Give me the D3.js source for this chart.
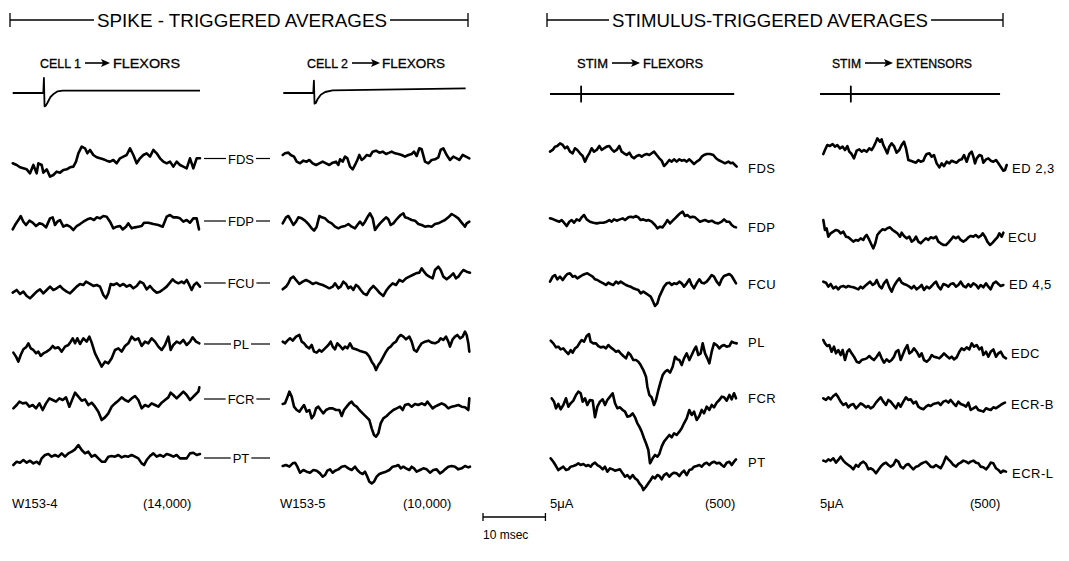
<!DOCTYPE html>
<html><head><meta charset="utf-8">
<script src="https://cdn.jsdelivr.net/npm/d3@7"></script>
<style>body{margin:0;background:#fff}svg{display:block}</style>
</head><body><svg id="c" width="1069" height="561"></svg>
<script>
// ---------- DATA ----------
// Each averaged trace: [sample index, amplitude (arbitrary units, + = up)]
const flexorLabels = ["FDS", "FDP", "FCU", "PL", "FCR", "PT"];
const extensorLabels = ["ED 2,3", "ECU", "ED 4,5", "EDC", "ECR-B", "ECR-L"];
const headerLabels = ["SPIKE - TRIGGERED AVERAGES", "STIMULUS-TRIGGERED AVERAGES"];
const footLeft = ["W153-4", "W153-5", "5\u03BCA", "5\u03BCA"];
const footRight = ["(14,000)", "(10,000)", "(500)", "(500)"];
const scaleBarMs = 10;
const sweepMs = [-5, 25];

// Spike-triggered averages, cell 1
const c1FDS = [[38,-15],[50,-20],[60,-27],[70,-30],[80,-33],[90,-45],[100,-20],[110,-45],[115,-15],[125,-20],[130,-43],[140,-33],[150,-55],[160,-50],[170,-40],[180,-43],[190,-35],[200,-33],[210,-27],[220,-25],[228,-10],[235,15],[245,35],[255,30],[262,15],[270,25],[280,10],[290,3],[300,0],[310,-3],[320,-7],[330,-10],[340,-5],[350,-15],[360,0],[370,5],[380,10],[390,30],[400,10],[410,-15],[420,0],[430,10],[440,15],[450,5],[460,25],[470,15],[480,0],[490,-10],[500,-15],[510,-10],[520,-25],[530,-10],[540,-20],[550,-25],[560,-30],[570,0],[580,-30],[590,0],[600,0]];
const c1FDP = [[38,-23],[45,-10],[55,5],[62,17],[70,0],[78,-10],[88,3],[98,-3],[108,-13],[118,-5],[128,-8],[138,-17],[150,10],[158,13],[165,-10],[172,0],[180,5],[190,-15],[200,-10],[210,-15],[220,-25],[230,-13],[240,-7],[250,0],[262,7],[272,10],[282,5],[290,13],[300,10],[310,17],[320,15],[330,0],[340,-20],[350,-15],[360,-13],[368,-23],[378,-15],[385,-5],[395,-20],[405,-17],[415,-15],[425,-13],[432,-3],[445,-3],[460,-7],[475,-10],[488,-15],[500,15],[510,20],[520,13],[530,13],[540,10],[550,0],[560,5],[570,-3],[580,10],[590,10],[597,-23]];
const c1FCU = [[38,-28],[50,-20],[60,-32],[70,-25],[80,-38],[90,-45],[100,-35],[110,-25],[120,-18],[130,-30],[140,-20],[150,-10],[160,-20],[170,-15],[180,-8],[190,-18],[200,-25],[210,-30],[220,-20],[230,-10],[240,-2],[250,-5],[258,5],[270,-2],[280,-8],[290,-5],[300,-10],[310,-35],[318,-45],[325,-30],[332,-2],[340,-5],[350,0],[360,-8],[370,-2],[380,-10],[390,-5],[400,-15],[410,-8],[420,5],[430,0],[440,-18],[450,-8],[460,-20],[470,-28],[480,-25],[490,-18],[500,-10],[510,2],[518,12],[525,5],[535,0],[545,5],[552,0],[560,10],[568,-5],[575,-20],[582,-5],[590,2],[600,-10]];
const c1PL = [[40,-28],[48,-40],[55,-55],[62,-35],[70,-18],[78,-12],[85,0],[92,-15],[100,-20],[108,-30],[115,-25],[122,-38],[130,-30],[140,-25],[150,-18],[158,-8],[165,-15],[175,-12],[185,-25],[195,-10],[205,-5],[212,5],[218,15],[225,0],[232,15],[240,-2],[250,15],[260,5],[268,20],[275,2],[285,-30],[295,-50],[305,-70],[315,-55],[325,-60],[335,-45],[345,-20],[355,-15],[365,-25],[375,-8],[385,0],[395,20],[405,10],[415,15],[425,-8],[435,5],[445,0],[455,15],[465,5],[475,-10],[485,-20],[495,-5],[505,20],[512,-20],[520,-5],[530,5],[540,0],[550,10],[560,-5],[570,5],[578,18],[588,5],[598,0]];
const c1FCR = [[40,-32],[50,-22],[58,-12],[68,-17],[78,-15],[88,-27],[98,-22],[108,-32],[118,-17],[128,-37],[138,-17],[148,-2],[158,-7],[168,-12],[178,-2],[188,-7],[198,1],[208,-27],[218,-2],[225,15],[235,3],[245,-9],[255,-5],[265,-22],[275,-15],[285,-27],[295,-42],[305,-67],[315,-59],[325,-47],[335,-27],[345,-17],[355,-9],[365,1],[375,-7],[385,-12],[395,-2],[405,5],[415,-7],[425,-32],[435,-22],[445,-27],[455,-17],[465,-22],[475,-27],[485,-15],[495,-7],[505,1],[512,15],[520,8],[530,-2],[540,8],[550,18],[560,8],[570,-7],[578,1],[585,8],[595,18],[598,31]];
const c1PT = [[40,-28],[50,-18],[60,-21],[70,-13],[80,-21],[90,-15],[100,-23],[110,-18],[118,-25],[125,-8],[135,2],[145,5],[155,-3],[165,2],[175,-3],[185,7],[195,-3],[205,7],[215,12],[225,19],[235,32],[245,17],[255,7],[265,12],[275,-3],[285,2],[295,-8],[305,-18],[315,-18],[325,-3],[335,-1],[345,-3],[355,2],[365,-5],[375,-1],[385,-3],[395,2],[405,-3],[415,-8],[425,-23],[432,-28],[440,-13],[450,-1],[460,7],[470,-3],[480,2],[490,-3],[500,5],[510,2],[520,-3],[530,2],[540,-8],[550,-8],[560,-8],[570,7],[580,9],[590,2],[600,5]];

// Spike-triggered averages, cell 2
const c2FDS = [[38,10],[45,15],[55,17],[62,10],[72,5],[80,-10],[90,-15],[100,-7],[110,-10],[118,-5],[128,-15],[138,-20],[148,-15],[158,-10],[168,-15],[178,-20],[188,-13],[198,-10],[205,-20],[210,-3],[218,-10],[225,5],[232,0],[240,-25],[248,-33],[255,-20],[262,-5],[268,10],[275,-5],[282,0],[290,10],[300,7],[308,20],[318,23],[328,17],[338,20],[348,13],[358,17],[365,20],[375,15],[385,13],[395,10],[405,5],[415,10],[425,13],[432,20],[440,7],[448,30],[455,27],[465,-10],[475,-15],[485,-5],[495,-3],[505,3],[512,25],[520,30],[530,10],[540,-5],[550,5],[560,0],[568,-5],[578,10],[588,5],[598,0]];
const c2FDP = [[38,-10],[48,8],[55,12],[62,0],[70,-15],[78,-5],[85,8],[95,5],[105,-2],[115,-12],[125,-25],[132,-32],[140,-20],[148,12],[155,8],[165,5],[175,-5],[185,-10],[195,-20],[205,-25],[215,-20],[225,-18],[235,-12],[245,-20],[255,-25],[262,-15],[270,-5],[278,-15],[285,-5],[292,8],[300,20],[308,5],[315,-30],[322,-20],[330,-10],[340,0],[348,8],[355,2],[362,-15],[370,-10],[378,0],[385,8],[392,15],[400,20],[405,8],[415,5],[425,0],[435,-2],[445,-12],[455,-15],[465,-20],[475,-18],[485,-20],[495,-12],[505,-10],[515,-5],[525,0],[535,8],[545,18],[555,12],[565,5],[575,-8],[585,-20],[590,-10],[598,-5]];
const c2FCU = [[38,-18],[48,-10],[55,0],[62,15],[70,20],[78,10],[88,-2],[98,5],[108,10],[118,5],[128,-2],[138,2],[148,-2],[158,-5],[168,-10],[178,-15],[188,-10],[195,0],[205,-15],[212,-10],[220,5],[228,-2],[235,-15],[242,-10],[250,-20],[258,-5],[265,-10],[272,-20],[280,-30],[290,-35],[300,-18],[310,-8],[320,-18],[330,-30],[340,-38],[350,-20],[358,-10],[368,0],[378,-5],[388,10],[398,5],[408,15],[418,20],[428,25],[438,30],[448,32],[455,45],[462,35],[470,25],[478,20],[488,15],[495,40],[505,50],[512,40],[520,20],[530,12],[540,20],[550,30],[558,15],[565,20],[572,30],[580,40],[590,35],[600,32]];
const c2PL = [[38,8],[45,3],[52,11],[60,18],[68,11],[78,23],[88,28],[95,8],[102,3],[110,-7],[118,-12],[125,-2],[132,-22],[140,-25],[148,-17],[155,-22],[165,-12],[175,-2],[182,8],[188,-7],[195,-15],[202,3],[210,-5],[218,-15],[225,-7],[232,-12],[240,3],[248,-12],[258,-15],[268,-19],[278,-22],[288,-25],[298,-37],[305,-52],[312,-62],[318,-77],[325,-62],[332,-52],[340,-37],[348,-22],[355,-12],[362,-7],[370,3],[378,8],[385,21],[392,28],[400,23],[408,15],[418,23],[425,8],[432,-17],[440,-22],[448,-7],[455,3],[465,8],[475,11],[485,5],[495,3],[505,8],[512,18],[520,13],[528,23],[535,8],[540,-7],[548,15],[555,23],[562,28],[570,18],[578,23],[585,38],[590,28],[595,3],[598,-22]];
const c2FCR = [[38,-12],[45,-10],[52,8],[58,25],[65,10],[72,-20],[80,-30],[88,-35],[95,-25],[102,-15],[110,-35],[118,-30],[125,-55],[132,-45],[138,-25],[145,-20],[152,-30],[160,-40],[168,-30],[178,-25],[188,-25],[198,-30],[208,-30],[215,-48],[222,-30],[230,-20],[238,-10],[245,-5],[252,-15],[260,-20],[268,-30],[278,-40],[288,-50],[298,-60],[305,-85],[312,-105],[318,-110],[325,-100],[332,-70],[340,-55],[350,-48],[360,-38],[370,-30],[380,-25],[390,-20],[398,-30],[405,-15],[415,-12],[425,-20],[435,-12],[445,-15],[455,-10],[465,-15],[472,-5],[480,-15],[488,-25],[495,-20],[505,-15],[515,-10],[525,-15],[535,-25],[545,-20],[555,-18],[565,-15],[575,-20],[585,-22],[595,-30],[598,5]];
const c2PT = [[38,-13],[48,-10],[58,-15],[68,-5],[75,-3],[82,-15],[90,-33],[100,-25],[110,-30],[120,-33],[130,-25],[140,-27],[150,-35],[158,-45],[165,-40],[172,-27],[180,-23],[188,-33],[195,-27],[205,-23],[215,-15],[225,-13],[235,-20],[245,-25],[255,-15],[262,-25],[270,-33],[278,-37],[285,-30],[292,-45],[298,-60],[305,-65],[312,-60],[320,-45],[328,-37],[338,-33],[348,-30],[358,-25],[368,-15],[378,-13],[385,-10],[392,-20],[400,-15],[408,-20],[418,-25],[425,-15],[432,-20],[440,-30],[450,-25],[460,-20],[470,-23],[480,-33],[490,-25],[500,-23],[510,-35],[518,-30],[525,-23],[535,-15],[545,-13],[555,-15],[565,-23],[575,-20],[585,-13],[595,-17],[600,-15]];

// Stimulus-triggered averages, flexors
const sfFDS = [[30,50],[38,55],[45,65],[52,67],[60,75],[68,70],[75,60],[82,65],[90,50],[98,45],[105,60],[112,55],[120,45],[128,37],[135,20],[142,35],[148,45],[155,60],[162,50],[170,55],[178,67],[185,55],[192,60],[200,65],[208,67],[215,57],[222,50],[230,55],[238,67],[245,50],[252,45],[260,40],[268,47],[275,35],[282,30],[290,37],[298,40],[305,35],[312,40],[320,43],[328,40],[335,45],[342,50],[350,40],[358,30],[365,23],[372,7],[380,15],[388,25],[395,20],[402,27],[410,20],[418,27],[425,23],[432,25],[440,20],[448,27],[455,20],[462,13],[470,20],[478,25],[485,35],[492,40],[500,43],[510,43],[520,40],[528,30],[535,25],[545,20],[555,15],[565,20],[572,15],[578,17],[585,10],[590,5]];
const sfFDP = [[30,25],[40,22],[50,18],[58,15],[65,20],[72,12],[80,2],[88,15],[95,20],[102,12],[110,22],[118,18],[125,28],[132,35],[140,22],[150,15],[160,12],[170,10],[180,12],[190,12],[200,15],[208,20],[215,15],[222,22],[230,18],[240,22],[248,25],[255,20],[265,28],[272,30],[280,28],[288,32],[295,28],[302,20],[310,22],[318,18],[325,20],[335,15],[345,5],[352,-5],[360,0],[368,-2],[375,8],[382,20],[390,10],[398,18],[405,25],[412,32],[420,40],[428,45],[435,32],[442,35],[450,28],[458,30],[465,28],[472,22],[480,15],[488,18],[495,20],[505,15],[515,18],[525,12],[535,10],[545,15],[552,22],[560,15],[568,15],[575,5],[582,0],[588,-2]];
const sfFCU = [[30,7],[38,22],[45,27],[52,14],[60,22],[68,12],[75,22],[82,30],[90,32],[98,22],[105,24],[112,17],[120,22],[128,27],[135,30],[142,32],[150,27],[158,22],[165,14],[172,12],[180,7],[190,2],[198,-3],[205,4],[212,0],[220,-3],[228,7],[235,2],[242,7],[250,2],[258,-3],[265,-6],[272,-8],[280,-13],[288,-16],[295,-18],[302,-28],[310,-23],[318,-28],[325,-33],[332,-38],[338,-50],[345,-66],[352,-58],[358,-38],[365,-23],[372,-8],[380,2],[388,4],[395,-3],[402,2],[410,0],[418,7],[425,2],[432,-8],[440,2],[448,14],[455,-3],[462,-13],[470,2],[478,14],[485,4],[492,2],[500,7],[508,17],[515,27],[522,22],[530,7],[538,-3],[545,14],[552,24],[560,27],[568,30],[575,24],[582,12],[588,2]];
const sfPL = [[32,3],[40,-5],[48,-17],[55,-15],[62,-23],[70,-20],[78,-30],[85,-37],[92,-25],[98,-33],[105,-20],[112,-15],[118,-5],[125,5],[132,0],[140,17],[147,23],[152,0],[160,-5],[168,-5],[175,-13],[182,-17],[190,-15],[198,-20],[205,-10],[212,-17],[220,-23],[228,-30],[235,-27],[242,-35],[250,-43],[258,-50],[265,-33],[272,-40],[280,-55],[288,-55],[295,-60],[302,-70],[310,-85],[318,-105],[322,-135],[328,-160],[335,-167],[342,-190],[348,-175],[355,-145],[362,-120],[368,-100],[375,-90],[382,-85],[390,-93],[398,-75],[405,-45],[412,-53],[418,-55],[425,-70],[432,-50],[440,-35],[448,-55],[455,-40],[462,-25],[468,-15],[475,-40],[482,-35],[488,-5],[495,-35],[502,-50],[508,-65],[515,-30],[522,-5],[530,-10],[538,-20],[545,-13],[552,-10],[560,-15],[568,-13],[575,0],[582,-3],[590,-5]];
const sfFCR = [[35,0],[42,-10],[48,-30],[55,-17],[62,-33],[70,-20],[78,0],[85,-25],[92,-15],[100,-7],[108,10],[115,20],[122,15],[128,-10],[135,0],[142,-20],[150,-5],[158,-7],[165,-57],[172,-25],[180,-10],[188,-3],[195,-20],[202,-5],[210,5],[218,15],[225,-15],[232,-30],[240,-27],[248,-35],[255,-40],[262,-55],[270,-53],[278,-45],[285,-57],[292,-75],[298,-85],[305,-100],[312,-120],[318,-135],[325,-155],[330,-195],[338,-180],[345,-170],[352,-175],[358,-167],[365,-145],[372,-130],[380,-120],[388,-110],[395,-117],[402,-105],[410,-110],[418,-100],[425,-90],[432,-75],[440,-60],[448,-35],[455,-50],[462,-40],[470,-65],[478,-53],[485,-35],[492,-45],[500,-25],[508,-35],[515,-20],[522,-27],[530,-13],[538,-5],[545,5],[552,3],[560,-7],[568,10],[575,-3],[582,15],[588,0]];
const sfPT = [[32,10],[40,0],[48,-13],[55,-25],[62,-20],[70,-15],[78,-25],[85,-23],[92,-15],[100,-13],[108,-10],[115,-5],[122,-10],[130,-7],[138,-13],[145,-10],[152,-15],[158,-7],[165,-3],[172,-10],[180,-15],[188,-23],[195,-15],[202,-30],[210,-20],[218,-23],[225,-27],[232,-25],[240,-23],[248,-35],[255,-45],[262,-40],[270,-50],[278,-40],[285,-50],[292,-55],[298,-65],[305,-73],[310,-85],[318,-75],[325,-65],[332,-55],[338,-45],[345,-50],[352,-40],[358,-43],[365,-53],[372,-40],[380,-35],[388,-45],[395,-37],[402,-33],[410,-35],[418,-43],[425,-33],[432,-27],[440,-40],[448,-25],[455,-23],[462,-15],[470,-13],[478,-10],[485,-15],[492,-7],[500,-3],[508,-10],[515,-3],[522,0],[530,-5],[538,-3],[545,-10],[552,-15],[560,-3],[568,0],[575,-10],[582,0],[588,7]];

// Stimulus-triggered averages, extensors
const seED23 = [[40,41],[45,53],[52,68],[60,65],[68,71],[75,63],[82,68],[90,58],[98,63],[105,53],[112,65],[118,48],[125,41],[132,28],[140,51],[148,55],[155,48],[162,53],[170,48],[178,58],[185,53],[192,65],[198,78],[202,88],[210,78],[215,85],[220,68],[225,58],[232,43],[238,63],[245,73],[252,65],[260,45],[268,53],[275,68],[282,78],[288,58],[295,23],[302,21],[310,18],[318,15],[325,23],[332,18],[340,21],[345,33],[350,41],[358,43],[365,33],[372,38],[380,13],[388,1],[395,13],[402,5],[410,18],[418,13],[425,21],[432,18],[440,15],[448,23],[455,25],[462,38],[470,18],[478,41],[485,48],[490,33],[495,13],[500,28],[508,38],[515,35],[520,15],[528,25],[535,28],[542,21],[550,18],[558,23],[565,13],[572,3],[580,-9],[585,-7],[590,8]];
const seECU = [[40,52],[45,22],[50,27],[55,2],[62,12],[70,17],[78,22],[85,20],[92,12],[100,17],[108,2],[115,0],[122,-6],[130,-13],[138,-8],[145,-10],[152,-3],[160,-8],[165,2],[170,7],[178,-8],[185,-23],[190,-33],[196,-18],[202,7],[210,17],[218,24],[225,22],[232,27],[240,30],[248,22],[255,17],[262,12],[270,2],[275,14],[282,4],[290,-3],[298,2],[305,-13],[312,-8],[318,2],[325,-13],[332,-18],[340,-10],[348,-3],[355,-8],[362,0],[370,-3],[378,2],[385,-13],[392,-18],[400,-23],[408,-23],[415,-16],[422,-8],[430,2],[438,-3],[445,2],[452,-8],[460,-13],[468,-8],[475,0],[482,4],[490,2],[497,7],[505,0],[512,4],[518,12],[525,2],[532,-13],[540,-23],[548,-16],[555,-8],[562,0],[568,12],[575,2],[580,14]];
const seED45 = [[40,7],[48,4],[55,-8],[62,0],[70,-13],[78,-8],[85,-16],[92,-8],[100,-6],[108,-10],[115,-6],[122,-8],[130,-10],[138,-13],[145,-16],[152,-8],[158,-13],[165,-6],[172,0],[180,7],[188,-3],[195,2],[200,12],[208,-6],[215,-13],[222,2],[230,12],[238,-10],[245,-23],[252,-6],[260,7],[268,17],[275,4],[282,0],[290,-3],[298,-8],[305,-13],[312,-6],[320,-16],[328,-10],[335,-3],[342,-18],[350,-8],[358,-13],[365,-6],[372,2],[378,7],[385,-8],[392,-16],[400,0],[408,-3],[415,-8],[422,0],[430,2],[438,-8],[445,-3],[452,7],[460,-6],[468,-10],[475,0],[482,-8],[490,2],[498,-3],[505,-13],[512,-3],[520,-10],[528,2],[535,-8],[542,-16],[550,2],[558,7],[565,0],[572,-6],[580,-3]];
const seEDC = [[40,38],[45,28],[52,20],[58,23],[65,3],[72,18],[78,-2],[85,8],[92,-7],[98,8],[105,-22],[112,3],[118,10],[125,-2],[132,-12],[140,-27],[148,-30],[155,-22],[162,-20],[170,-17],[178,-10],[185,-17],[192,-22],[200,-12],[208,0],[215,-17],[222,-30],[230,-20],[238,-27],[245,-22],[252,-12],[258,3],[265,8],[272,-22],[278,-7],[285,10],[292,23],[298,-2],[305,3],[312,13],[320,3],[328,-12],[335,-2],[342,-22],[350,-27],[358,-20],[365,-7],[372,-12],[380,-14],[388,-17],[395,-10],[402,-2],[410,-10],[418,-17],[425,-12],[432,-20],[440,-14],[448,3],[455,13],[462,8],[470,16],[478,10],[485,28],[492,18],[500,23],[508,10],[515,16],[520,-7],[528,3],[535,-12],[542,3],[550,10],[558,-12],[565,-2],[572,3],[580,-12],[588,-17]];
const seECRB = [[40,18],[48,13],[55,21],[62,15],[70,25],[78,31],[85,21],[92,8],[100,-2],[108,3],[115,-9],[122,-2],[130,1],[138,-12],[145,-5],[152,3],[160,-2],[168,-9],[175,-5],[182,-12],[190,-7],[198,5],[205,13],[212,21],[220,8],[228,-2],[235,13],[242,8],[250,-2],[258,-12],[265,3],[272,-7],[280,8],[288,21],[295,13],[302,15],[310,3],[318,8],[325,-7],[332,-12],[340,-15],[348,-7],[355,-2],[362,-5],[370,1],[378,3],[385,5],[392,-2],[400,8],[408,11],[415,5],[422,13],[430,3],[438,-5],[445,8],[452,1],[460,-2],[468,-7],[475,5],[482,-17],[490,-12],[498,-7],[505,-17],[512,-19],[520,-22],[528,-12],[535,-15],[542,-17],[550,-9],[558,-12],[565,-7],[572,-2],[580,3],[585,5]];
const seECRL = [[40,38],[48,35],[55,42],[62,38],[70,45],[78,32],[85,40],[92,50],[100,38],[108,30],[115,25],[122,20],[130,12],[138,25],[145,20],[152,30],[160,35],[168,28],[175,12],[182,15],[190,10],[198,0],[205,10],[212,20],[220,28],[228,32],[235,25],[242,20],[250,25],[258,40],[265,35],[272,20],[280,15],[288,25],[295,28],[302,20],[310,12],[318,20],[325,22],[332,28],[340,32],[348,35],[355,28],[362,20],[370,18],[378,25],[385,20],[392,15],[400,30],[408,50],[415,42],[422,35],[430,25],[438,20],[445,28],[452,32],[460,38],[468,35],[475,30],[482,35],[490,38],[498,32],[505,30],[512,20],[520,18],[528,12],[535,20],[542,32],[550,30],[558,15],[565,10],[572,2],[580,8],[588,5]];

// Trigger traces (time in ms, amplitude)
const cell1Trigger = [[-5,0],[-0.1,0],[0,45],[0.1,-40],[0.3,-38],[0.55,-30],[1.05,-12],[1.6,-2],[2.2,5],[3,7],[25,7]];
const cell2Trigger = [[-4.9,0],[-0.1,0],[0,37],[0.1,-32],[0.3,-30],[0.6,-18],[1.1,-5],[1.8,3],[3,8],[24.3,14]];
const stimFlexTrigger = [[-5,0],[0,0],[0,23],[0,-23],[0,0],[24.6,0]];
const stimExtTrigger  = [[-5,0],[0,0],[0,23],[0,-23],[0,0],[24.2,0]];

// ---------- LAYOUT ----------
const svg = d3.select("#c");
const FONT = "'Liberation Sans', Arial, sans-serif";
const columns = [
  { x: [12.7, 200], samples: [38, 600], base: [158.3, 221.7, 283.3, 343.3, 397.7, 455.7], series: [c1FDS,c1FDP,c1FCU,c1PL,c1FCR,c1PT],
    trig: cell1Trigger, trigBase: 93, sub: ["CELL 1", "FLEXORS"], subX: [40, 85, 110, 113, 180] },
  { x: [282.7, 470], samples: [38, 600], base: [158.3, 220, 283.3, 344.3, 400, 461.7], series: [c2FDS,c2FDP,c2FCU,c2PL,c2FCR,c2PT],
    trig: cell2Trigger, trigBase: 93, sub: ["CELL 2", "FLEXORS"], subX: [307, 352, 380, 382, 445] },
  { x: [550, 736.7], samples: [30, 590], base: [168.3, 226.7, 284, 341.7, 398.3, 461.7], series: [sfFDS,sfFDP,sfFCU,sfPL,sfFCR,sfPT],
    trig: stimFlexTrigger, trigBase: 94, sub: ["STIM", "FLEXORS"], subX: [577, 612, 640, 643, 703],
    labels: flexorLabels, labelX: [748,748,748,748,748,748] },
  { x: [823.3, 1006.7], samples: [40, 590], base: [167.7, 237.3, 284, 352.7, 404.3, 473.3], series: [seED23,seECU,seED45,seEDC,seECRB,seECRL],
    trig: stimExtTrigger, trigBase: 94, sub: ["STIM", "EXTENSORS"], subX: [832, 865, 893, 896, 972],
    labels: extensorLabels, labelX: [1012,1008,1009,1011,1011,1012], trigX: [820, 1005] }
];

const yUnit = base => d3.scaleLinear().domain([-300, 300]).range([base + 100, base - 100]);

columns.forEach(col => {
  const xs = d3.scaleLinear().domain(sweepMs).range(col.x);
  const sampleToMs = d3.scaleLinear().domain(col.samples).range(sweepMs);
  col.series.forEach((pts, r) => {
    const ys = yUnit(col.base[r]);
    const gen = d3.line().x(d => xs(sampleToMs(d[0]))).y(d => ys(d[1]));
    svg.append("path").attr("d", gen(pts)).attr("fill", "none")
      .attr("stroke", "#000").attr("stroke-width", 2.6)
      .attr("stroke-linejoin", "round").attr("stroke-linecap", "round");
  });
  // trigger trace
  const xt = d3.scaleLinear().domain(sweepMs).range(col.trigX || col.x);
  const ys = yUnit(col.trigBase);
  svg.append("path").attr("d", d3.line().x(d => xt(d[0])).y(d => ys(d[1]))(col.trig))
    .attr("fill", "none").attr("stroke", "#000").attr("stroke-width", 1.8)
    .attr("stroke-linejoin", "round");
  // subtitle: left text, arrow, right text
  const sy = 68;
  svg.append("text").attr("x", col.subX[0]).attr("y", sy).text(col.sub[0])
    .attr("font-family", FONT).attr("font-size", 13).attr("textLength", col.subX[1] - col.subX[0] - 4)
    .attr("lengthAdjust", "spacingAndGlyphs").attr("stroke", "#000").attr("stroke-width", 0.3);
  svg.append("line").attr("x1", col.subX[1]).attr("x2", col.subX[2] - 6).attr("y1", sy - 5).attr("y2", sy - 5)
    .attr("stroke", "#000").attr("stroke-width", 1.6);
  svg.append("path").attr("d", `M${col.subX[2] - 9},${sy - 9} L${col.subX[2]},${sy - 5} L${col.subX[2] - 9},${sy - 1} L${col.subX[2] - 7},${sy - 5} Z`)
    .attr("fill", "#000");
  svg.append("text").attr("x", col.subX[3]).attr("y", sy).text(col.sub[1])
    .attr("font-family", FONT).attr("font-size", 13).attr("textLength", col.subX[4] - col.subX[3])
    .attr("lengthAdjust", "spacingAndGlyphs").attr("stroke", "#000").attr("stroke-width", 0.3);
  // right-side labels
  if (col.labels) {
    col.labels.forEach((lab, r) => {
      svg.append("text").attr("x", col.labelX[r]).attr("y", col.base[r] + 5).text(lab)
        .attr("font-family", FONT).attr("font-size", 13).attr("fill", "#000")
        .attr("letter-spacing", 0.5);
    });
  }
});

// middle labels with dashes
const midY = [158.5, 221, 283, 344, 399, 458];
flexorLabels.forEach((lab, r) => {
  const t = svg.append("text").attr("x", 241).attr("y", midY[r] + 5).text(lab)
    .attr("font-family", FONT).attr("font-size", 13).attr("text-anchor", "middle");
  const w = t.node().getComputedTextLength();
  svg.append("line").attr("x1", 204).attr("x2", 241 - w / 2 - 2).attr("y1", midY[r]).attr("y2", midY[r])
    .attr("stroke", "#000").attr("stroke-width", 1.2);
  svg.append("line").attr("x1", 241 + w / 2 + 2).attr("x2", 270).attr("y1", midY[r]).attr("y2", midY[r])
    .attr("stroke", "#000").attr("stroke-width", 1.2);
});

// headers with bracket lines
const headers = [
  { x0: 10, x1: 468, tx: [97, 387] },
  { x0: 547, x1: 1003, tx: [612, 928] }
];
const hy = 20;
headers.forEach((h, i) => {
  svg.append("text").attr("x", h.tx[0]).attr("y", hy + 7).text(headerLabels[i])
    .attr("font-family", FONT).attr("font-size", 18).attr("textLength", h.tx[1] - h.tx[0])
    .attr("lengthAdjust", "spacingAndGlyphs");
  [[h.x0, h.tx[0] - 3], [h.tx[1] + 3, h.x1]].forEach(s => {
    svg.append("line").attr("x1", s[0]).attr("x2", s[1]).attr("y1", hy).attr("y2", hy)
      .attr("stroke", "#000").attr("stroke-width", 1.3);
  });
  [h.x0, h.x1].forEach(x => {
    svg.append("line").attr("x1", x).attr("x2", x).attr("y1", hy - 7).attr("y2", hy + 7)
      .attr("stroke", "#000").attr("stroke-width", 1.3);
  });
});

// footer
const footLX = [12, 280, 550, 820];
const footRX = [143, 403, 705, 970];
const fy = 508;
footLeft.forEach((s, i) => {
  svg.append("text").attr("x", footLX[i]).attr("y", fy).text(s)
    .attr("font-family", FONT).attr("font-size", 13);
  svg.append("text").attr("x", footRX[i]).attr("y", fy).text(footRight[i])
    .attr("font-family", FONT).attr("font-size", 13);
});

// scale bar 10 msec (same ms→px scale as the sweeps)
const sbScale = d3.scaleLinear().domain([0, sweepMs[1] - sweepMs[0]]).range([0, 187.3]);
const sbX0 = 483, sbY = 517;
const sbX1 = sbX0 + sbScale(scaleBarMs);
svg.append("line").attr("x1", sbX0).attr("x2", sbX1).attr("y1", sbY).attr("y2", sbY).attr("stroke", "#000").attr("stroke-width", 1.3);
[sbX0, sbX1].forEach(x => svg.append("line").attr("x1", x).attr("x2", x).attr("y1", sbY - 4).attr("y2", sbY + 4).attr("stroke", "#000").attr("stroke-width", 1.3));
svg.append("text").attr("x", sbX0).attr("y", sbY + 22).text(scaleBarMs + " msec")
  .attr("font-family", FONT).attr("font-size", 12);
</script></body></html>
